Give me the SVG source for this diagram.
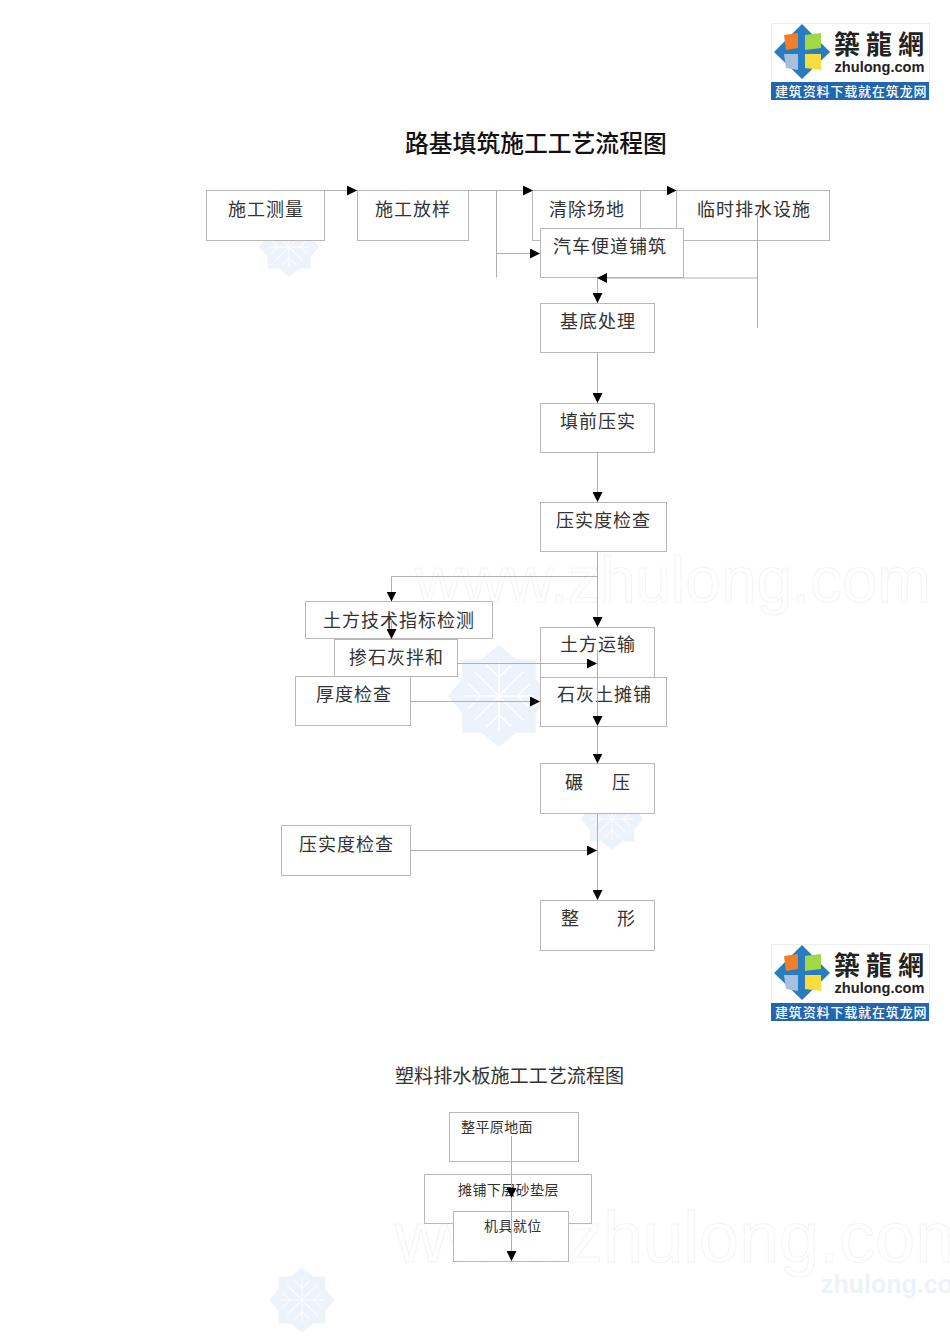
<svg xmlns="http://www.w3.org/2000/svg" width="950" height="1344" viewBox="0 0 950 1344">
<style>
.b{fill:#fff;stroke:#b8b8b8;stroke-width:1}
.c{fill:none;stroke:#b0b0b0;stroke-width:1}
.t{font-family:"Noto Sans CJK SC","Noto Sans CJK JP",sans-serif;font-size:18px;fill:#333;letter-spacing:1px}
.s{font-size:14px;letter-spacing:.4px}
.w{font-family:"Liberation Sans",Arial,sans-serif;fill:none;stroke:#f3f4f8;stroke-width:1}
.f{fill:#edf3fa}
.fl{stroke:#fff;stroke-width:1.5;fill:none}
.lt{font-family:"Noto Sans CJK TC","Noto Sans CJK SC",sans-serif;font-weight:700;font-size:26px;fill:#222;letter-spacing:6px}
.lz{font-family:"Liberation Sans",Arial,sans-serif;font-weight:700;font-size:14.6px;fill:#222}
.lb{font-family:"Noto Sans CJK SC",sans-serif;font-weight:500;font-size:13px;fill:#fff;letter-spacing:.85px}
</style>
<defs>
<marker id="a" markerUnits="userSpaceOnUse" markerWidth="10" markerHeight="10" refX="10" refY="5" orient="auto"><path d="M0 0L10 5L0 10Z" fill="#000"/></marker>
<g id="flake">
<polygon class="f" points="0,-50 17,-36 36,-36 36,-17 50,0 36,17 36,36 17,36 0,50 -17,36 -36,36 -36,17 -50,0 -36,-17 -36,-36 -17,-36"/>
<path class="fl" d="M0 -34V34M-34 0H34M-24 -24L24 24M-24 24L24 -24M-12 -30L0 -18L12 -30M-12 30L0 18L12 30M-30 -12L-18 0L-30 12M30 -12L18 0L30 12"/>
</g>
</defs>
<rect width="950" height="1344" fill="#fff"/>
<g id="watermarks">
<use href="#flake" transform="translate(289,247) scale(.6)"/>
<use href="#flake" transform="translate(499,696) scale(1.02)"/>
<use href="#flake" transform="translate(612,819) scale(.62)"/>
<use href="#flake" transform="translate(302,1300) scale(.65)"/>
<text class="w" x="415" y="602" font-size="64">www.zhulong.com</text>
<text class="w" x="395" y="1262" font-size="72">www.zhulong.com</text>
<text x="821" y="1293" font-family="Liberation Sans,Arial,sans-serif" font-weight="700" font-size="25" fill="#eef2f8">zhulong.com</text>
</g>
<g id="logo1">
<rect x="771.5" y="23.500" width="158" height="76" fill="#fff" stroke="#eee"/>
<polygon points="802,24 830,52 802,79 774,52" fill="#2a7cc0"/>
<polygon points="784,35 798,33 798,48 786,50" fill="#f07f2a"/>
<polygon points="805,35 821,33 821,48 805,50" fill="#a0d848"/>
<polygon points="784,54 798,54 798,70 786,68" fill="#a8c0e0"/>
<polygon points="805,54 821,54 821,70 805,68" fill="#f8dc40"/>
<text class="lt" x="834" y="54">築龍網</text>
<text class="lz" x="834.5" y="72">zhulong.com</text>
<rect x="771" y="82" width="158" height="18" fill="#2366ae"/>
<text class="lb" x="775" y="96">建筑资料下载就在筑龙网</text>
</g>
<g id="logo2">
<rect x="771.5" y="944.500" width="158" height="76" fill="#fff" stroke="#eee"/>
<polygon points="802,945 830,973 802,1000 774,973" fill="#2a7cc0"/>
<polygon points="784,956 798,954 798,969 786,971" fill="#f07f2a"/>
<polygon points="805,956 821,954 821,969 805,971" fill="#a0d848"/>
<polygon points="784,975 798,975 798,991 786,989" fill="#a8c0e0"/>
<polygon points="805,975 821,975 821,991 805,989" fill="#f8dc40"/>
<text class="lt" x="834" y="975">築龍網</text>
<text class="lz" x="834.5" y="993">zhulong.com</text>
<rect x="771" y="1003" width="158" height="18" fill="#2366ae"/>
<text class="lb" x="775" y="1017">建筑资料下载就在筑龙网</text>
</g>
<text id="title1" x="405" y="152" font-family="Noto Sans CJK SC,sans-serif" font-size="23.8px" font-weight="500" fill="#111">路基填筑施工工艺流程图</text>
<text id="title2" x="395" y="1083" font-family="Noto Sans CJK SC,sans-serif" font-size="19.1px" fill="#333">塑料排水板施工工艺流程图</text>
<g id="n1"><rect class="b" x="206.500" y="190.500" width="118" height="50"/><text class="t" x="228" y="216">施工测量</text></g>
<g id="n2"><rect class="b" x="357.500" y="190.500" width="111" height="50"/><text class="t" x="375" y="216">施工放样</text></g>
<g id="n3"><rect class="b" x="532.500" y="190.500" width="108" height="50"/><text class="t" x="549" y="216">清除场地</text></g>
<g id="n4"><rect class="b" x="676.500" y="190.500" width="153" height="50"/><text class="t" x="697" y="216">临时排水设施</text></g>
<g id="n5"><rect class="b" x="540.500" y="228.500" width="143" height="49"/><text class="t" x="553" y="253">汽车便道铺筑</text></g>
<g id="n6"><rect class="b" x="540.500" y="303.500" width="114" height="49"/><text class="t" x="560" y="328">基底处理</text></g>
<g id="n7"><rect class="b" x="540.500" y="403.500" width="114" height="49"/><text class="t" x="560" y="428">填前压实</text></g>
<g id="n8"><rect class="b" x="540.500" y="502.500" width="126" height="49"/><text class="t" x="556" y="527">压实度检查</text></g>
<g id="n9"><rect class="b" x="305.500" y="601.500" width="187" height="37"/><text class="t" x="323" y="627">土方技术指标检测</text></g>
<g id="n10"><rect class="b" x="334.500" y="639.500" width="123" height="37"/><text class="t" x="349" y="664">掺石灰拌和</text></g>
<g id="n11"><rect class="b" x="295.500" y="676.500" width="115" height="49"/><text class="t" x="316" y="701">厚度检查</text></g>
<g id="n12"><rect class="b" x="540.500" y="627.500" width="114" height="50"/><text class="t" x="560" y="651">土方运输</text></g>
<g id="n13"><rect class="b" x="540.500" y="677.500" width="126" height="49"/><text class="t" x="557" y="701">石灰土摊铺</text></g>
<g id="n14"><rect class="b" x="540.500" y="763.500" width="114" height="50"/><text class="t" x="565 612" y="789">碾压</text></g>
<g id="n15"><rect class="b" x="281.500" y="825.500" width="129" height="50"/><text class="t" x="299" y="851">压实度检查</text></g>
<g id="n16"><rect class="b" x="540.500" y="900.500" width="114" height="50"/><text class="t" x="561 617" y="925">整形</text></g>
<g id="n17"><rect class="b" x="449.500" y="1112.500" width="129" height="49"/><text class="t s" x="461" y="1132">整平原地面</text></g>
<g id="n18"><rect class="b" x="424.500" y="1174.500" width="167" height="49"/><text class="t s" x="458" y="1195">摊铺下层砂垫层</text></g>
<g id="n19"><rect class="b" x="453.500" y="1211.500" width="115" height="50"/><text class="t s" x="484" y="1231">机具就位</text></g>
<g id="connectors" class="c">
<path d="M324.500 190.500H357" marker-end="url(#a)"/>
<path d="M468.500 190.500H533" marker-end="url(#a)"/>
<path d="M496.500 190.500V277.500"/>
<path d="M496.500 253.500H540" marker-end="url(#a)"/>
<path d="M600 190.500H676.500" marker-end="url(#a)"/>
<path d="M757.500 215V328"/>
<path d="M757.500 278H597" marker-end="url(#a)"/>
<path d="M597.500 278V303" marker-end="url(#a)"/>
<path d="M597.500 352V403" marker-end="url(#a)"/>
<path d="M597.500 452V502" marker-end="url(#a)"/>
<path d="M597.500 551V627" marker-end="url(#a)"/>
<path d="M597.500 576.500H391.500V601.500" marker-end="url(#a)"/>
<path d="M391.500 620V639" marker-end="url(#a)"/>
<path d="M457.500 663.500H597" marker-end="url(#a)"/>
<path d="M410.500 701.500H540" marker-end="url(#a)"/>
<path d="M597.500 650V726" marker-end="url(#a)"/>
<path d="M597.500 726V763.500" marker-end="url(#a)"/>
<path d="M410.500 850.500H597" marker-end="url(#a)"/>
<path d="M597.500 813V900" marker-end="url(#a)"/>
<path d="M511.500 1136V1198" marker-end="url(#a)"/>
<path d="M511.500 1198V1261" marker-end="url(#a)"/>
</g>
</svg>
